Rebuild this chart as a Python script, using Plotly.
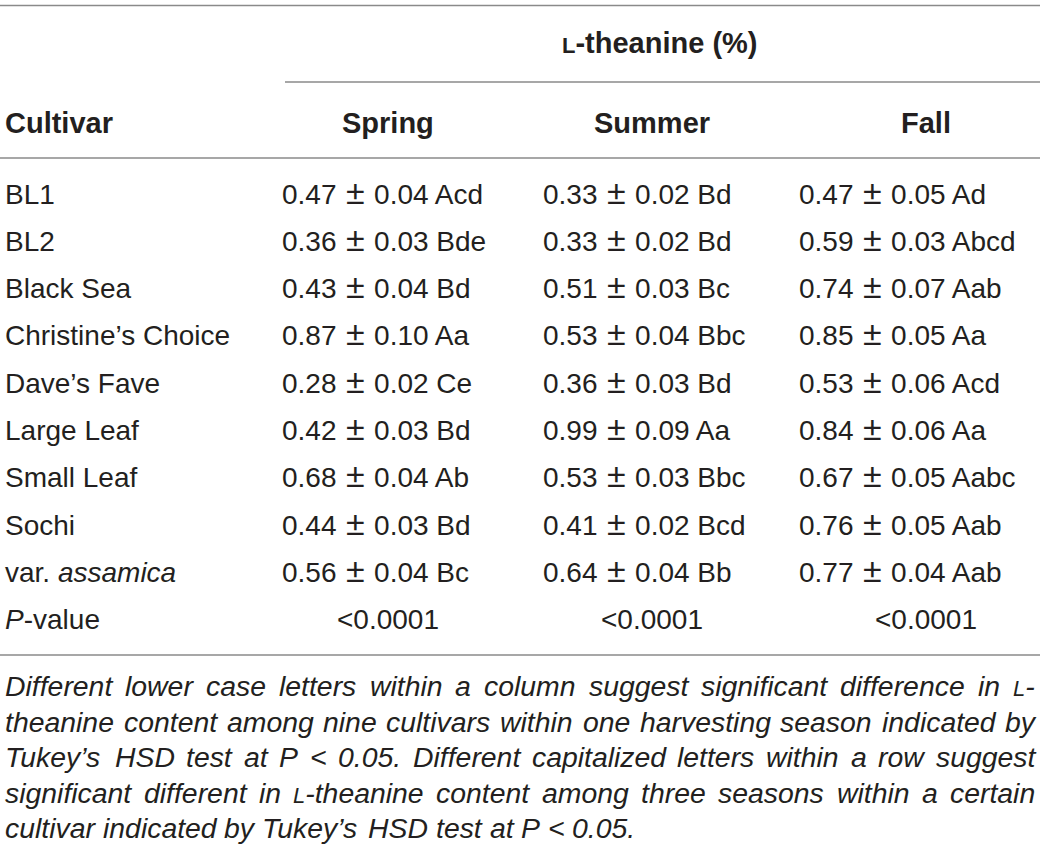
import plotly.graph_objects as go

# table data
cultivars = ["BL1", "BL2", "Black Sea", "Christine’s Choice", "Dave’s Fave",
             "Large Leaf", "Small Leaf", "Sochi", "var. <i>assamica</i>"]
seasons = ["Spring", "Summer", "Fall"]
spring_mean = [0.47, 0.36, 0.43, 0.87, 0.28, 0.42, 0.68, 0.44, 0.56]
spring_sd = [0.04, 0.03, 0.04, 0.10, 0.02, 0.03, 0.04, 0.03, 0.04]
spring_letters = ["Acd", "Bde", "Bd", "Aa", "Ce", "Bd", "Ab", "Bd", "Bc"]
summer_mean = [0.33, 0.33, 0.51, 0.53, 0.36, 0.99, 0.53, 0.41, 0.64]
summer_sd = [0.02, 0.02, 0.03, 0.04, 0.03, 0.09, 0.03, 0.02, 0.04]
summer_letters = ["Bd", "Bd", "Bc", "Bbc", "Bd", "Aa", "Bbc", "Bcd", "Bb"]
fall_mean = [0.47, 0.59, 0.74, 0.85, 0.53, 0.84, 0.67, 0.76, 0.77]
fall_sd = [0.05, 0.03, 0.07, 0.05, 0.06, 0.06, 0.05, 0.05, 0.04]
fall_letters = ["Ad", "Abcd", "Aab", "Aa", "Acd", "Aa", "Aabc", "Aab", "Aab"]
p_values = ["&lt;0.0001", "&lt;0.0001", "&lt;0.0001"]

footnote_lines = [
    "Different lower case letters within a column suggest significant difference in {L}-",
    "theanine content among nine cultivars within one harvesting season indicated by",
    "Tukey’s HSD test at P &lt; 0.05. Different capitalized letters within a row suggest",
    "significant different in {L}-theanine content among three seasons within a certain",
    "cultivar indicated by Tukey’s HSD test at P &lt; 0.05.",
]

FONT = "Liberation Sans, Arial, sans-serif"
INK = "#231f20"
RULE = "#8a8a8a"
SIZE = 28
HEAD_SIZE = 29
NOTE_SIZE = 28.4
SMALL_L = '<span style="font-size:22px">L</span>'
PM = '<span style="font-size:34px;font-weight:300"> ± </span>'

# Arial / Liberation Sans advance widths (1/1000 em), used to justify the note
W = dict(zip("abcdefghijklmnopqrstuvwxyz",
             [556, 556, 500, 556, 556, 278, 556, 556, 222, 222, 500, 222, 833,
              556, 556, 556, 556, 333, 500, 278, 556, 500, 722, 500, 500, 500]))
W.update({"D": 722, "T": 611, "H": 722, "S": 667, "P": 667, "L": 556,
          ".": 278, "-": 333, "’": 222, " ": 278, "0": 556, "5": 556})


def word_width(word):
    w = 0
    word = word.replace("&lt;", "<")
    if "{L}" in word:
        w += 556 * 22 / NOTE_SIZE
        word = word.replace("{L}", "")
    for c in word:
        w += W.get(c, 584)
    return w * NOTE_SIZE / 1000


fig = go.Figure()
fig.add_trace(go.Scatter(x=[0, 1040], y=[0, 853], mode="markers",
                         marker=dict(opacity=0), hoverinfo="skip", showlegend=False))

ann = []


def txt(x, y, s, anchor="left", bold=False, italic=False, size=SIZE):
    ann.append(dict(x=x, y=y, xref="x", yref="y", text=s, showarrow=False,
                    xanchor=anchor, yanchor="middle",
                    font=dict(family=FONT, size=size, color=INK,
                              weight="bold" if bold else "normal",
                              style="italic" if italic else "normal")))


# header
txt(660, 43, SMALL_L + "-theanine (%)", anchor="center", bold=True, size=HEAD_SIZE)
txt(3, 123, "Cultivar", bold=True, size=HEAD_SIZE)
head_x = [388, 652, 926]
for s, hx in zip(seasons, head_x):
    txt(hx, 123, s, anchor="center", bold=True, size=HEAD_SIZE)

# body rows
row_y0, row_dy = 194, 47.3
col_x = [280, 541, 797]
cols = [(spring_mean, spring_sd, spring_letters),
        (summer_mean, summer_sd, summer_letters),
        (fall_mean, fall_sd, fall_letters)]
for i, name in enumerate(cultivars):
    y = row_y0 + i * row_dy
    txt(3, y, name)
    for (m, sd, let), cx in zip(cols, col_x):
        # the larger plus-minus glyph makes the box taller, pull it back up
        txt(cx, y - 2.5, f"{m[i]:.2f}{PM}{sd[i]:.2f} {let[i]}")

y_p = row_y0 + len(cultivars) * row_dy
txt(3, y_p, "<i>P</i>-value")
for p, hx in zip(p_values, head_x):
    txt(hx, y_p, p, anchor="center")

# footnote, justified word by word except the last line
left, right = 3, 1033
for k, line in enumerate(footnote_lines):
    y = 686 + k * 35.5
    words = line.split(" ")
    widths = [word_width(w) for w in words]
    if k < len(footnote_lines) - 1:
        gap = (right - left - sum(widths)) / (len(words) - 1)
    else:
        gap = W[" "] * NOTE_SIZE / 1000
    x = left
    for w, ww in zip(words, widths):
        txt(x, y, w.replace("{L}", SMALL_L), italic=True, size=NOTE_SIZE)
        x += ww + gap

# rules
shapes = []
for x0, y0 in [(0, 5.5), (285, 82), (0, 158), (0, 655)]:
    shapes.append(dict(type="line", xref="x", yref="y", x0=x0, x1=1040, y0=y0, y1=y0,
                       line=dict(color=RULE, width=1.5)))

fig.update_layout(
    width=1040, height=853,
    margin=dict(l=0, r=0, t=0, b=0),
    paper_bgcolor="white", plot_bgcolor="white",
    xaxis=dict(range=[0, 1040], visible=False, fixedrange=True),
    yaxis=dict(range=[853, 0], visible=False, fixedrange=True),
    annotations=ann, shapes=shapes,
)

fig.write_html("out.html", config={"displayModeBar": False},
               post_script="document.body.style.margin='0';")
